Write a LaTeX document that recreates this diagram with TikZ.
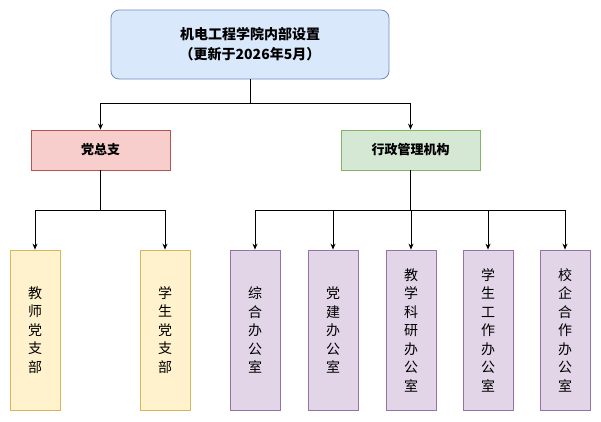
\documentclass[tikz,border=0pt]{standalone}
\usepackage{fontspec}
\setmainfont{Noto Sans CJK SC}
\usetikzlibrary{arrows.meta}
\definecolor{bF}{HTML}{DAE8FC}\definecolor{bS}{HTML}{6C8EBF}
\definecolor{rF}{HTML}{F8CECC}\definecolor{rS}{HTML}{B85450}
\definecolor{gF}{HTML}{D5E8D4}\definecolor{gS}{HTML}{82B366}
\definecolor{yF}{HTML}{FFF2CC}\definecolor{yS}{HTML}{D6B656}
\definecolor{pF}{HTML}{E1D5E7}\definecolor{pS}{HTML}{9673A6}
\begin{document}
\begin{tikzpicture}[x=1pt,y=-1pt,
 box/.style={draw,line width=0.8pt,inner sep=0pt,font=\fontsize{13}{16}\selectfont},
 conn/.style={line width=0.8pt,-{Stealth[length=6pt,width=5pt]}},
 vt/.style={box,align=center,font=\fontsize{14}{18.5}\selectfont}]
\useasboundingbox (0,0) rectangle (601,421);
\node[box,rounded corners=8pt,fill=bF,draw=bS,minimum width=278pt,minimum height=69pt,align=center,font=\fontsize{14}{20}\selectfont\bfseries] (top) at (250,44.5) {机电工程学院内部设置\\（更新于2026年5月）};
\node[box,fill=rF,draw=rS,minimum width=139pt,minimum height=40pt,font=\fontsize{13}{16}\selectfont\bfseries] (d) at (100.5,150) {党总支};
\node[box,fill=gF,draw=gS,minimum width=139pt,minimum height=40pt,font=\fontsize{13}{16}\selectfont\bfseries] (x) at (410.5,150) {行政管理机构};
\foreach \n/\cx/\f/\s/\t in {a/35/yF/yS/{教\\师\\党\\支\\部},b/165/yF/yS/{学\\生\\党\\支\\部},c/255/pF/pS/{综\\合\\办\\公\\室},e/333/pF/pS/{党\\建\\办\\公\\室},f/411/pF/pS/{教\\学\\科\\研\\办\\公\\室},g/488/pF/pS/{学\\生\\工\\作\\办\\公\\室},h/565/pF/pS/{校\\企\\合\\作\\办\\公\\室}}
  \node[vt,fill=\f,draw=\s,minimum width=50pt,minimum height=160pt] (\n) at (\cx,330) {\t};
\draw[conn] (top.south) -- ++(0,24) -| (d.north);
\draw[conn] (top.south) -- ++(0,24) -| (x.north);
\draw[conn] (d.south) -- ++(0,40) -| (a.north);
\draw[conn] (d.south) -- ++(0,40) -| (b.north);
\foreach \n in {c,e,f,g,h} \draw[conn] (x.south) -- ++(0,40) -| (\n.north);
\end{tikzpicture}
\end{document}
